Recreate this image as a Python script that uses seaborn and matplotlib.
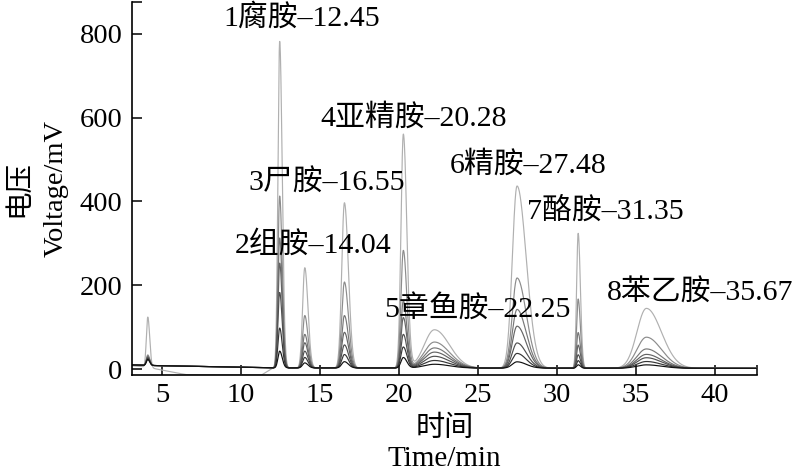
import numpy as np
import pandas as pd
import matplotlib
matplotlib.use('Agg')
import matplotlib.pyplot as plt
import seaborn as sns

# retention times (min): solvent peak + 8 biogenic amines
peak_times = [4.1, 12.45, 14.04, 16.55, 20.28, 22.25, 27.48, 31.35, 35.67]
# half widths left / right of apex (min), peaks tail to the right
sigma_left = [0.09, 0.11, 0.14, 0.17, 0.15, 0.65, 0.30, 0.10, 0.60]
sigma_right = [0.12, 0.16, 0.20, 0.25, 0.22, 0.95, 0.58, 0.14, 0.95]

# peak heights (mV) read for each standard level
level_names = ['L1', 'L2', 'L3', 'L4', 'L5', 'L6', 'L7']
heights_L1 = [120, 780, 240, 395, 558, 92, 435, 322, 143]
heights_L2 = [25, 410, 125, 205, 280, 62, 215, 165, 74]
heights_L3 = [22, 310, 80, 125, 160, 48, 140, 85, 46]
heights_L4 = [20, 250, 60, 85, 120, 38, 100, 55, 33]
heights_L5 = [18, 180, 40, 55, 80, 28, 60, 32, 25]
heights_L6 = [16, 95, 25, 32, 50, 18, 35, 18, 16]
heights_L7 = [14, 40, 12, 15, 25, 9, 15, 8, 8]

# baseline drift (mV) read at a few times
baseline_t = [3.1, 4.0, 6.5, 11.3, 12.0, 42.7]
baseline_L1 = [8, 5, -13, -14, 2, 2]
baseline_other = [10, 9, 7, 4, 3, 2]

# peak labels
label_texts = ['1腐胺–12.45', '2组胺–14.04', '3尸胺–16.55', '4亚精胺–20.28',
               '5章鱼胺–22.25', '6精胺–27.48', '7酪胺–31.35', '8苯乙胺–35.67']
label_x = [13.86, 14.56, 15.44, 20.95, 24.97, 28.16, 33.10, 39.05]
label_y = [838, 296, 444, 599, 141, 487, 377, 181]

heights = [heights_L1, heights_L2, heights_L3, heights_L4,
           heights_L5, heights_L6, heights_L7]

t = np.linspace(3.1, 42.66, 8000)
frames = []
for i, name in enumerate(level_names):
    base = baseline_L1 if i == 0 else baseline_other
    v = np.interp(t, baseline_t, base)
    for rt, sl, sr, h in zip(peak_times, sigma_left, sigma_right, heights[i]):
        s = np.where(t < rt, sl, sr)
        v = v + h * np.exp(-0.5 * ((t - rt) / s) ** 2)
    frames.append(pd.DataFrame({'time': t, 'voltage': v, 'level': name}))
df = pd.concat(frames, ignore_index=True)

sns.set_style('ticks')
plt.rcParams['font.family'] = ['Liberation Serif', 'Noto Sans CJK SC']
plt.rcParams['axes.unicode_minus'] = False
plt.rcParams['text.color'] = 'black'
plt.rcParams['axes.labelcolor'] = 'black'

fig = plt.figure(figsize=(8, 4.75), dpi=100)
ax = fig.add_axes([0.165, 0.2105, 0.781, 0.7853])

grays = ['#b0b0b0', '#8c8c8c', '#787878', '#646464', '#505050', '#363636', '#111111']
sns.lineplot(data=df, x='time', y='voltage', hue='level', palette=grays,
             legend=False, linewidth=0.85, estimator=None, sort=False, ax=ax)

for txt, x, y in zip(label_texts, label_x, label_y):
    ax.text(x, y, txt, fontsize=21.5, ha='center', va='center', color='black')

ax.set_xlim(3.1, 42.66)
ax.set_ylim(-14, 876)
ax.set_xticks([5, 10, 15, 20, 25, 30, 35, 40])
ax.set_yticks([0, 200, 400, 600, 800])
ax.set_xticks([42.66], minor=True)
ax.set_yticks([876], minor=True)
ax.tick_params(which='both', direction='in', length=7, width=1.1, colors='black',
               labelsize=20.5)
ax.tick_params(axis='y', pad=7)
ax.tick_params(axis='x', pad=6)
sns.despine(ax=ax)
for sp in ['left', 'bottom']:
    ax.spines[sp].set_linewidth(1.2)
    ax.spines[sp].set_color('black')

ax.set_ylabel('电压\nVoltage/mV', fontsize=20.5, linespacing=1.6)
ax.yaxis.set_label_coords(-0.102, 0.5)
ax.set_xlabel('时间\nTime/min', fontsize=21, linespacing=1.2, va='top')
ax.xaxis.set_label_coords(0.5, -0.11)

fig.savefig('out.png', dpi=100)
